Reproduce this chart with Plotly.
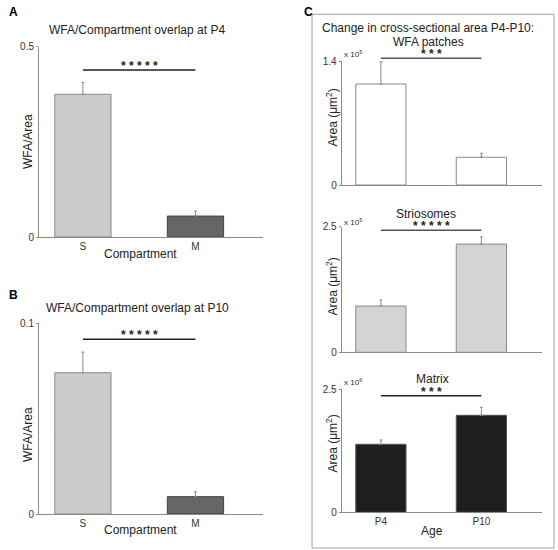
import plotly.graph_objects as go

W, H = 558, 550
FONT = "Liberation Sans, Arial, sans-serif"

# ---------------- data ----------------
compartments = ["S", "M"]
p4_overlap = [0.375, 0.055]
p4_overlap_err = [0.031, 0.013]
p10_overlap = [0.0741, 0.0091]
p10_overlap_err = [0.0108, 0.0025]

ages = ["P4", "P10"]
wfa_area = [1.14e5, 0.313e5]
wfa_area_err = [0.25e5, 0.045e5]
strio_area = [0.921e5, 2.154e5]
strio_area_err = [0.12e5, 0.145e5]
matrix_area = [1.379e6, 1.967e6]
matrix_area_err = [0.087e6, 0.162e6]

y_tops = [0.5, 0.1, 1.4e5, 2.5e5, 2.5e6]
y_top_labels = ["0.5", "0.1", "1.4", "2.5", "2.5"]
sig_levels = [0.439, 0.0916, 1.43e5, 2.43e5, 2.364e6]
sig_stars = ["* * * * *", "* * * * *", "* * *", "* * * * *", "* * *"]


def px(x):
    return x / W


def py(y):
    return 1 - y / H


XR = [-0.39, 1.6]

panels = [
    dict(cats=compartments, vals=p4_overlap, err=p4_overlap_err,
         fill=["#cccccc", "#666666"], edge=["#8a8a8a", "#444444"],
         xd=(39, 263), yd=(237, 46.7), sigc="#222222"),
    dict(cats=compartments, vals=p10_overlap, err=p10_overlap_err,
         fill=["#cccccc", "#666666"], edge=["#8a8a8a", "#444444"],
         xd=(39, 263), yd=(514, 323.3), sigc="#222222"),
    dict(cats=ages, vals=wfa_area, err=wfa_area_err,
         fill=["#ffffff", "#ffffff"], edge=["#8a8a8a", "#8a8a8a"],
         xd=(341.7, 541.7), yd=(185, 61), sigc="#555555"),
    dict(cats=ages, vals=strio_area, err=strio_area_err,
         fill=["#d4d4d4", "#d4d4d4"], edge=["#8a8a8a", "#8a8a8a"],
         xd=(341.7, 541.7), yd=(352.3, 226.7), sigc="#555555"),
    dict(cats=ages, vals=matrix_area, err=matrix_area_err,
         fill=["#1e1e1e", "#1e1e1e"], edge=["#555555", "#555555"],
         xd=(341.7, 541.7), yd=(512.3, 389), sigc="#222222"),
]

fig = go.Figure()
layout = dict(
    width=W, height=H, margin=dict(l=0, r=0, t=0, b=0, autoexpand=False),
    paper_bgcolor="white", plot_bgcolor="white", showlegend=False,
    font=dict(family=FONT, color="#222222", size=10),
)
shapes = []
annotations = []

for i, p in enumerate(panels):
    n = "" if i == 0 else str(i + 1)
    xa, ya = "x" + n, "y" + n
    fig.add_trace(go.Bar(
        x=p["cats"], y=p["vals"], width=0.5,
        marker=dict(color=p["fill"], line=dict(color=p["edge"], width=1)),
        error_y=dict(type="data", array=p["err"], arrayminus=[0, 0], symmetric=False,
                     color="#8a8a8a", thickness=1, width=1.5),
        xaxis=xa, yaxis=ya, hoverinfo="skip",
    ))
    show_x_labels = i in (0, 1, 4)
    layout["xaxis" + n] = dict(
        domain=[px(p["xd"][0]), px(p["xd"][1])], range=XR, anchor=ya,
        showline=True, linecolor="#8a8a8a", linewidth=1, showgrid=False,
        zeroline=False, ticks="", showticklabels=show_x_labels, automargin=False,
        tickfont=dict(size=10, color="#333333"), fixedrange=True,
    )
    top = y_tops[i]
    layout["yaxis" + n] = dict(
        domain=[py(p["yd"][0]), py(p["yd"][1])], range=[0, top], anchor=xa,
        showline=True, linecolor="#8a8a8a", linewidth=1, showgrid=False,
        zeroline=False, ticks="outside", ticklen=2, tickcolor="#8a8a8a",
        tickvals=[0, top], ticktext=["0", y_top_labels[i]], automargin=False,
        tickfont=dict(size=10, color="#333333"), fixedrange=True,
    )
    # significance bar (domain coordinates computed from data values)
    fx = lambda v: (v - XR[0]) / (XR[1] - XR[0])
    fy = sig_levels[i] / top
    shapes.append(dict(type="line", xref=xa + " domain", yref=ya + " domain",
                       x0=fx(0), x1=fx(1), y0=fy, y1=fy,
                       line=dict(color=p["sigc"], width=1.5)))
    annotations.append(dict(text="<b>" + sig_stars[i] + "</b>", xref=xa + " domain",
                            yref=ya + " domain", x=fx(0.5), y=fy, xanchor="center",
                            yanchor="bottom", yshift=-5, showarrow=False,
                            font=dict(size=12, color="#222222")))

# panel C box
shapes.append(dict(type="rect", xref="paper", yref="paper", x0=px(312), x1=px(554),
                   y0=py(548), y1=py(14.3), line=dict(color="#a0a0a0", width=1)))


def text(t, x, y, size=12, angle=0, bold=False, xanchor="center", color="#222222"):
    annotations.append(dict(text=("<b>%s</b>" % t) if bold else t, xref="paper",
                            yref="paper", x=px(x), y=py(y), xanchor=xanchor,
                            yanchor="middle", showarrow=False, textangle=angle,
                            font=dict(size=size, color=color, family=FONT)))


# panel letters
text("A", 7, 12, size=12, bold=True, xanchor="left", color="#000000")
text("B", 7, 295, size=12, bold=True, xanchor="left", color="#000000")
text("C", 302, 12, size=12, bold=True, xanchor="left", color="#000000")

# titles
text("WFA/Compartment overlap at P4", 137, 30)
text("WFA/Compartment overlap at P10", 137, 308)
text("Change in cross-sectional area P4-P10:", 428, 28)
text("WFA patches", 428, 42)
text("Striosomes", 426, 214)
text("Matrix", 432, 379)

# axis titles
text("WFA/Area", 28, 142, angle=-90)
text("WFA/Area", 28, 435, angle=-90)
text("Compartment", 140, 254)
text("Compartment", 140, 530)
text("Age", 432, 531)
text("Area (μm<sup>2</sup>)", 331.5, 118, angle=-90)
text("Area (μm<sup>2</sup>)", 331.5, 287, angle=-90)
text("Area (μm<sup>2</sup>)", 331.5, 444, angle=-90)

# exponent labels
text("x 10<sup>5</sup>", 342, 54, size=8, xanchor="left", color="#333333")
text("x 10<sup>5</sup>", 342, 222, size=8, xanchor="left", color="#333333")
text("x 10<sup>6</sup>", 342, 382, size=8, xanchor="left", color="#333333")

layout["shapes"] = shapes
layout["annotations"] = annotations
fig.update_layout(**layout)
fig.write_html(
    "out.html",
    config={"displayModeBar": False},
    post_script="document.body.style.margin='0';document.body.style.overflow='hidden';",
)
